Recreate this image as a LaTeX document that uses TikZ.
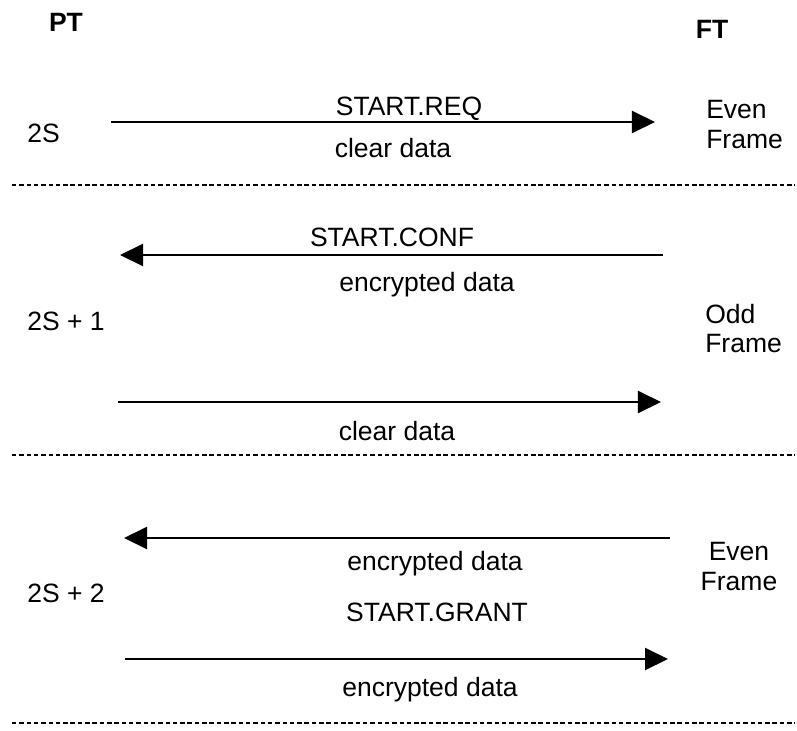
\documentclass[tikz,border=0pt]{standalone}
\usepackage{fontspec}
\setmainfont{Liberation Sans}
\usetikzlibrary{positioning,arrows.meta}

\begin{document}
\begin{tikzpicture}[
  x=0.025cm, y=-0.025cm,
  font=\fontsize{18.85pt}{21.3pt}\selectfont,
  >={Triangle[length=0.575cm,width=0.55cm]},
  msg/.style={->, line width=1.42pt},
  sep/.style={line width=1.6pt, dash pattern=on 3.2pt off 2pt},
  lbl/.style={inner sep=0pt}]
\useasboundingbox (0,0) rectangle (797,731);

\node[lbl,anchor=base,font=\fontsize{18.85pt}{21.3pt}\bfseries] (PT) at (66,31) {PT};
\node[lbl,anchor=base,font=\fontsize{18.85pt}{21.3pt}\bfseries] (FT) at (712,38) {FT};

\node[lbl,anchor=base west] (slot0) at (27,142) {2S};
\node[lbl,anchor=base west] (slot1) at (27,330) {2S + 1};
\node[lbl,anchor=base west] (slot2) at (27,602) {2S + 2};

\node[lbl,anchor=west,align=left] (frame0) at (706,124.5) {Even\\Frame};
\node[lbl,anchor=west,align=left] (frame1) at (705,328.5) {Odd\\Frame};
\node[lbl,align=center] (frame2) at (739,566.5) {Even\\Frame};

% messages
\coordinate (req-s) at (111,122);   \coordinate (req-e) at (655,122);
\coordinate (conf-s) at (663,255);  \coordinate (conf-e) at (120,255);
\coordinate (clr-s) at (118,402);   \coordinate (clr-e) at (661,402);
\coordinate (enc-s) at (670,538);   \coordinate (enc-e) at (124,538);
\coordinate (grant-s) at (125,659); \coordinate (grant-e) at (668,659);

\draw[msg] (req-s) -- (req-e);
\draw[msg] (conf-s) -- (conf-e);
\draw[msg] (clr-s) -- (clr-e);
\draw[msg] (enc-s) -- (enc-e);
\draw[msg] (grant-s) -- (grant-e);

\node[lbl,anchor=base] (req) at (409,115) {START.REQ};
\node[lbl,anchor=base] (req-d) at (393,157) {clear data};
\node[lbl,anchor=base] (conf) at (392,246) {START.CONF};
\node[lbl,anchor=base] (conf-d) at (427,291) {encrypted data};
\node[lbl,anchor=base] (clr-d) at (397,440) {clear data};
\node[lbl,anchor=base] (enc-d) at (435,570) {encrypted data};
\node[lbl,anchor=base] (grant) at (437,621) {START.GRANT};
\node[lbl,anchor=base] (grant-d) at (430,696) {encrypted data};

% frame boundaries
\coordinate (b0-w) at (12,185); \coordinate (b0-e) at (795,185);
\coordinate (b1-w) at (12,455); \coordinate (b1-e) at (795,455);
\coordinate (b2-w) at (12,723); \coordinate (b2-e) at (795,723);
\draw[sep] (b0-w) -- (b0-e);
\draw[sep] (b1-w) -- (b1-e);
\draw[sep] (b2-w) -- (b2-e);
\end{tikzpicture}
\end{document}
